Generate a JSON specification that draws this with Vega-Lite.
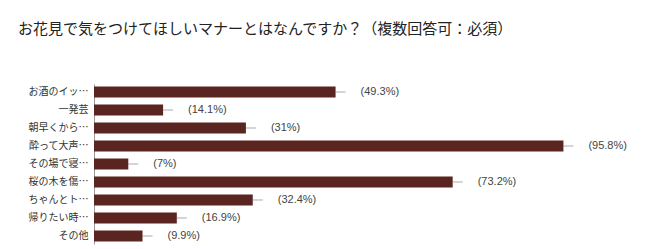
{
  "$schema": "https://vega.github.io/schema/vega-lite/v6.json",
  "autosize": "none",
  "width": 490,
  "height": 160,
  "padding": {"left": 94, "top": 84, "right": 66, "bottom": 5},
  "background": "white",
  "title": {
    "text": "お花見で気をつけてほしいマナーとはなんですか？（複数回答可：必須）",
    "anchor": "start",
    "frame": "group",
    "dx": -76,
    "offset": 47,
    "font": "Noto Sans CJK JP",
    "fontSize": 15,
    "fontWeight": "normal",
    "color": "#222222"
  },
  "data": {
    "values": [
      {"item": "お酒のイッ…", "pct": 49.3},
      {"item": "一発芸", "pct": 14.1},
      {"item": "朝早くから…", "pct": 31},
      {"item": "酔って大声…", "pct": 95.8},
      {"item": "その場で寝…", "pct": 7},
      {"item": "桜の木を傷…", "pct": 73.2},
      {"item": "ちゃんとト…", "pct": 32.4},
      {"item": "帰りたい時…", "pct": 16.9},
      {"item": "その他", "pct": 9.9}
    ]
  },
  "transform": [{"calculate": "'(' + datum.pct + '%)'", "as": "label"}],
  "encoding": {
    "y": {
      "field": "item",
      "type": "nominal",
      "sort": null,
      "scale": {"paddingInner": 0.39, "paddingOuter": 0.14},
      "axis": {
        "title": null,
        "ticks": false,
        "labelPadding": 6,
        "labelFont": "Noto Sans CJK JP",
        "labelFontSize": 10,
        "labelColor": "#333333",
        "domainColor": "#999999",
        "labelLimit": 0
      }
    }
  },
  "layer": [
    {
      "mark": {"type": "rule", "color": "#aaaaaa", "strokeWidth": 1, "x2Offset": 10},
      "encoding": {
        "x": {"field": "pct", "type": "quantitative", "scale": {"domain": [0, 100]}, "axis": null},
        "x2": {"field": "pct"}
      }
    },
    {
      "mark": {"type": "bar", "color": "#5a2420"},
      "encoding": {
        "x": {"field": "pct", "type": "quantitative", "scale": {"domain": [0, 100]}, "axis": null}
      }
    },
    {
      "mark": {"type": "text", "align": "left", "dx": 25, "font": "Liberation Sans", "fontSize": 11, "color": "#444444"},
      "encoding": {
        "x": {"field": "pct", "type": "quantitative", "scale": {"domain": [0, 100]}, "axis": null},
        "text": {"field": "label"}
      }
    }
  ],
  "config": {"view": {"stroke": null}}
}
